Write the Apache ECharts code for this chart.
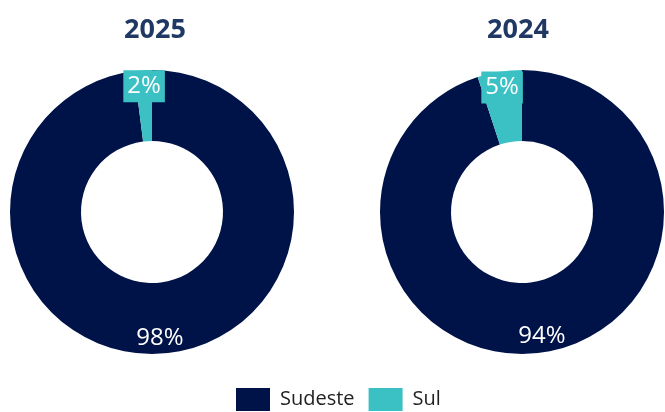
<!DOCTYPE html>
<html>
<head>
<meta charset="utf-8">
<script src="https://cdn.jsdelivr.net/npm/echarts@6/dist/echarts.min.js"></script>
<style>
  html, body { margin: 0; padding: 0; background: #fff; }
  #chart { width: 665px; height: 412px; }
</style>
</head>
<body>
<div id="chart"></div>
<script>
// 数据
var regions = ['Sudeste', 'Sul'];
var years = ['2025', '2024'];
var share2025 = [98, 2];
var share2024 = [94, 5];

var colors = ['#001348', '#3bc0c3'];
var fontName = '"Open Sans", "Liberation Sans", sans-serif';

function toData(values) {
  return regions.map(function(name, i) {
    return { name: name, value: values[i] };
  });
}

// 环形本体
function ring(values, cx) {
  return {
    type: 'pie',
    radius: [71, 142],
    center: [cx, 212],
    startAngle: 90,
    clockwise: true,
    silent: true,
    label: { show: false },
    labelLine: { show: false },
    emphasis: { disabled: true },
    data: toData(values)
  };
}

// 标签层（透明，只为把标签放在环的外侧一点）
function labels(values, cx) {
  return {
    type: 'pie',
    radius: [104, 142],
    center: [cx, 212],
    startAngle: 90,
    clockwise: true,
    silent: true,
    itemStyle: { color: 'transparent' },
    emphasis: { disabled: true },
    labelLine: { show: false },
    label: {
      show: true,
      position: 'inside',
      formatter: '{c}%',
      color: '#fff',
      fontFamily: fontName,
      fontSize: 24,
      lineHeight: 28
    },
    data: toData(values).map(function(d, i) {
      if (i === 1) {
        d.label = { backgroundColor: colors[1], padding: [2, 4, 2, 4] };
      }
      return d;
    })
  };
}

var chart = echarts.init(document.getElementById('chart'));
chart.setOption({
  backgroundColor: '#fff',
  color: colors,
  animation: false,
  title: [{
    text: years[0],
    left: 150,
    top: 12,
    textAlign: 'center',
    textStyle: { fontFamily: fontName, fontSize: 27, fontWeight: 'bold', color: '#1f3864' }
  }, {
    text: years[1],
    left: 513,
    top: 12,
    textAlign: 'center',
    textStyle: { fontFamily: fontName, fontSize: 27, fontWeight: 'bold', color: '#1f3864' }
  }],
  legend: {
    data: regions,
    left: 236,
    bottom: 1,
    padding: 0,
    itemWidth: 34,
    itemHeight: 23,
    itemGap: 14,
    icon: 'rect',
    textStyle: { fontFamily: fontName, fontSize: 20, color: '#222', padding: [0, 0, 0, 5] }
  },
  series: [
    ring(share2025, 152),
    ring(share2024, 522),
    labels(share2025, 152),
    labels(share2024, 522)
  ]
});
</script>
</body>
</html>
